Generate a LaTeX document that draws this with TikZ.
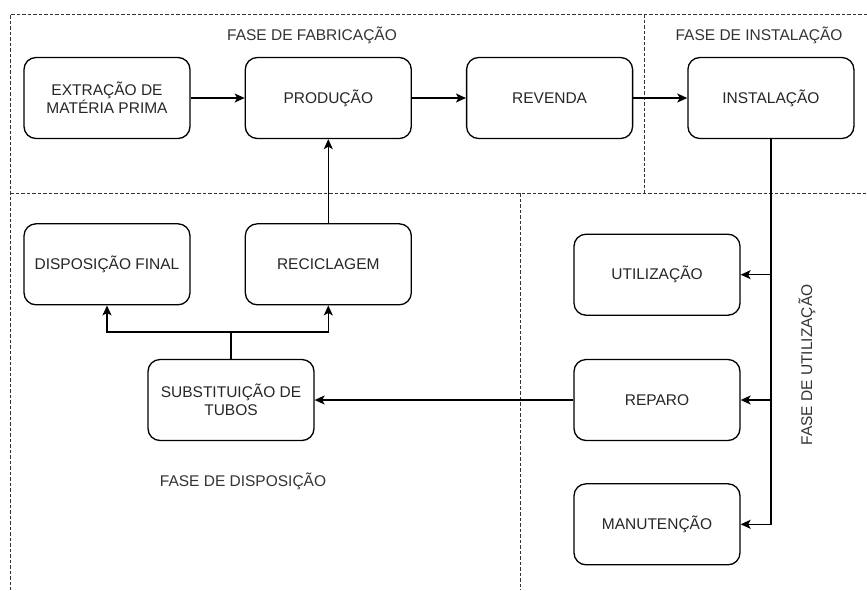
\documentclass[tikz,border=0pt]{standalone}
\usepackage{fontspec}
\setmainfont{Liberation Sans}
\usetikzlibrary{positioning,arrows.meta,calc}
\tikzset{
  stage/.style={draw, rounded corners=12pt, line width=1.3pt, minimum width=166pt, minimum height=81pt, align=center, inner sep=2pt},
  phase/.style={text=black!80},
  frame/.style={draw=black!80, line width=1pt, dash pattern=on 3.5pt off 2pt},
}

\begin{document}
\begin{tikzpicture}[>={Stealth[length=10pt, width=9pt, inset=2.5pt]}, x=1pt, y=1pt, node distance=54pt, font=\fontsize{15.5}{18}\selectfont, text=black!85, line width=1.3pt]
\useasboundingbox (0,0) rectangle (867,-590);

% fabricacao / instalacao
\node (ext)  [stage] at (107,-98) {EXTRAÇÃO DE\\MATÉRIA PRIMA};
\node (prod) [stage, right=of ext]  {PRODUÇÃO};
\node (rev)  [stage, right=of prod] {REVENDA};
\node (inst) [stage, right=of rev]  {INSTALAÇÃO};

% disposicao
\node (disp)  [stage, below=84pt of ext]  {DISPOSIÇÃO FINAL};
\node (recic) [stage, below=84pt of prod] {RECICLAGEM};
\node (subst) [stage] at (231,-400) {SUBSTITUIÇÃO DE\\TUBOS};

% utilizacao
\node (rep)  [stage] at (657,-400) {REPARO};
\node (util) [stage, above=43pt of rep] {UTILIZAÇÃO};
\node (man)  [stage, below=42pt of rep] {MANUTENÇÃO};

% phase labels
\node (fabtxt)  [phase] at (312,-35) {FASE DE FABRICAÇÃO};
\node (insttxt) [phase] at (759,-35) {FASE DE INSTALAÇÃO};
\node (disptxt) [phase] at (243,-481) {FASE DE DISPOSIÇÃO};
\node (utiltxt) [phase, rotate=90] at (807,-365) {FASE DE UTILIZAÇÃO};

% phase frames
\coordinate (tl) at (10,-14);
\coordinate (tr) at (867,-14);
\coordinate (ml) at (10,-193);
\coordinate (mr) at (867,-193);
\draw[frame] (tr) -- (tl) -- (10,-590);
\draw[frame] (ml) -- (mr);
\draw[frame] (644,-14) -- (644,-193);
\draw[frame] (520,-193) -- (520,-590);

% main path
\draw[->] (ext) -- (prod);
\draw[->] (prod) -- (rev);
\draw[->] (rev) -- (inst);
\draw[->] (inst) |- (util);
\draw[->] (inst) |- (rep);
\draw[->] (inst) |- (man);
\draw[->] (rep) -- (subst);

% fork to disposal
\coordinate (fork) at ($(subst.north)+(0,27pt)$);
\draw (subst.north) -- (fork);
\draw[->] (fork) -| (disp);
\draw[->] (fork) -| (recic);
\draw[->] (recic) -- (prod);
\end{tikzpicture}
\end{document}
